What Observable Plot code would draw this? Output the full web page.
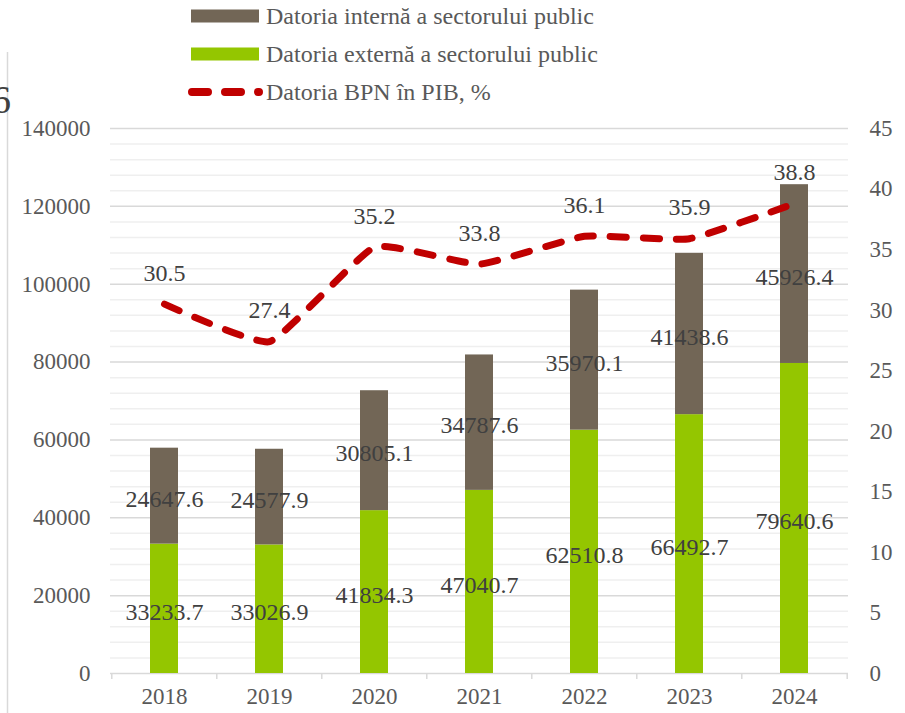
<!DOCTYPE html>
<html>
<head>
<meta charset="utf-8">
<script src="https://cdn.jsdelivr.net/npm/d3@7"></script>
<script src="https://cdn.jsdelivr.net/npm/@observablehq/plot@0.6"></script>
<style>
  body { margin: 0; background: #fff; font-family: "Liberation Serif", "Times New Roman", serif; }
  #wrap { position: relative; width: 905px; height: 713px; overflow: hidden; }
  #legend { display: block; }
  #chart svg { display: block; }
  #overlay { position: absolute; left: 0; top: 0; pointer-events: none; }
</style>
</head>
<body>
<div id="wrap">
  <svg id="legend" width="905" height="110"></svg>
  <div id="chart"></div>
  <svg id="overlay" width="905" height="713">
    <line x1="7.5" x2="7.5" y1="52" y2="713" stroke="#d9d9d9" stroke-width="1.5"></line>
    <text x="11" y="113" text-anchor="end" font-size="40" fill="#404040" font-family="Liberation Serif">6</text>
  </svg>
</div>
<script>
// ---- data ----
const years = ["2018", "2019", "2020", "2021", "2022", "2023", "2024"];
const externalDebt = [33233.7, 33026.9, 41834.3, 47040.7, 62510.8, 66492.7, 79640.6];
const internalDebt = [24647.6, 24577.9, 30805.1, 34787.6, 35970.1, 41438.6, 45926.4];
const debtPctGDP = [30.5, 27.4, 35.2, 33.8, 36.1, 35.9, 38.8];
const leftTicks = [0, 20000, 40000, 60000, 80000, 100000, 120000, 140000];
const rightTicks = [0, 5, 10, 15, 20, 25, 30, 35, 40, 45];
const seriesNames = {
  int: "Datoria internă a sectorului public",
  ext: "Datoria externă a sectorului public",
  pct: "Datoria BPN în PIB, %"
};
const colors = { int: "#726656", ext: "#94C600", pct: "#C00000" };
const FONT = "Liberation Serif, Times New Roman, serif";

// ---- legend ----
const leg = d3.select("#legend");
const legRows = [
  { key: "int", y: 16, kind: "rect" },
  { key: "ext", y: 54, kind: "rect" },
  { key: "pct", y: 92, kind: "line" }
];
legRows.forEach(r => {
  if (r.kind === "rect") {
    leg.append("rect").attr("x", 191).attr("y", r.y - 6.5).attr("width", 68).attr("height", 13).attr("fill", colors[r.key]);
  } else {
    leg.append("line").attr("x1", 192).attr("x2", 259).attr("y1", r.y).attr("y2", r.y)
      .attr("stroke", colors[r.key]).attr("stroke-width", 8).attr("stroke-linecap", "round")
      .attr("stroke-dasharray", "16,17");
  }
  leg.append("text").attr("x", 266).attr("y", r.y).attr("dy", "0.35em")
    .attr("font-size", 24).attr("fill", "#595959").attr("font-family", FONT)
    .text(seriesNames[r.key]);
});

// ---- chart ----
const W = 905, H = 603;
const mL = 110, mR = 57, mT = 18, mB = 40;
const yMax = 140000, rMax = 45;
const k = yMax / rMax;
const step = (W - mL - mR) / years.length;

const stacked = [];
years.forEach((y, i) => {
  stacked.push({ year: y, series: "ext", value: externalDebt[i], mid: externalDebt[i] / 2 });
  stacked.push({ year: y, series: "int", value: internalDebt[i], mid: externalDebt[i] + internalDebt[i] / 2 });
});
const lineData = years.map((y, i) => ({ year: y, pct: debtPctGDP[i] }));
const minorTicks = d3.range(0, yMax + 1, 4000).filter(v => v % 20000 !== 0);

const chart = Plot.plot({
  width: W, height: H,
  marginLeft: mL, marginRight: mR, marginTop: mT, marginBottom: mB,
  style: { fontFamily: FONT, fontSize: "23px", color: "#595959", background: "white" },
  x: { type: "band", domain: years, paddingInner: 0.73, paddingOuter: 0.365, align: 0.5 },
  y: { domain: [0, yMax] },
  color: { domain: ["int", "ext"], range: [colors.int, colors.ext] },
  marks: [
    Plot.ruleY(minorTicks, { stroke: "#efefef", strokeWidth: 1.5 }),
    Plot.ruleY(leftTicks, { stroke: "#d9d9d9", strokeWidth: 1.5 }),
    Plot.ruleX(years, { x: d => d, y1: 0, y2: 0, dx: -step / 2, insetBottom: -6, stroke: "#d9d9d9", strokeWidth: 1.5 }),
    Plot.ruleX([years[years.length - 1]], { x: d => d, y1: 0, y2: 0, dx: step / 2, insetBottom: -6, stroke: "#d9d9d9", strokeWidth: 1.5 }),
    Plot.barY(stacked, Plot.stackY({ x: "year", y: "value", fill: "series", z: "series", order: ["ext", "int"] })),
    Plot.axisY({ ticks: leftTicks, tickFormat: d => String(d), tickSize: 0, tickPadding: 20, label: null, anchor: "left", fontFamily: FONT }),
    Plot.axisY({ ticks: rightTicks.map(v => v * k), tickFormat: d => String(Math.round(d / k)), tickSize: 0, tickPadding: 21, label: null, anchor: "right", fontFamily: FONT }),
    Plot.axisX({ tickSize: 0, tickPadding: 14, label: null, fontFamily: FONT }),
    Plot.line(lineData, { x: "year", y: d => d.pct * k, stroke: colors.pct, strokeWidth: 7, strokeDasharray: "16,17", strokeLinecap: "round", strokeLinejoin: "round", curve: d3.curveCardinal.tension(0.6) }),
    Plot.text(stacked, { x: "year", y: "mid", text: d => d.value.toFixed(1), fill: "#404040", fontSize: 24, fontFamily: FONT, dy: 3 }),
    Plot.text(lineData, { x: "year", y: d => d.pct * k, text: d => d.pct.toFixed(1), fill: "#404040", fontSize: 24, fontFamily: FONT, dy: -31 })
  ]
});
document.getElementById("chart").appendChild(chart);
</script>
</body>
</html>
